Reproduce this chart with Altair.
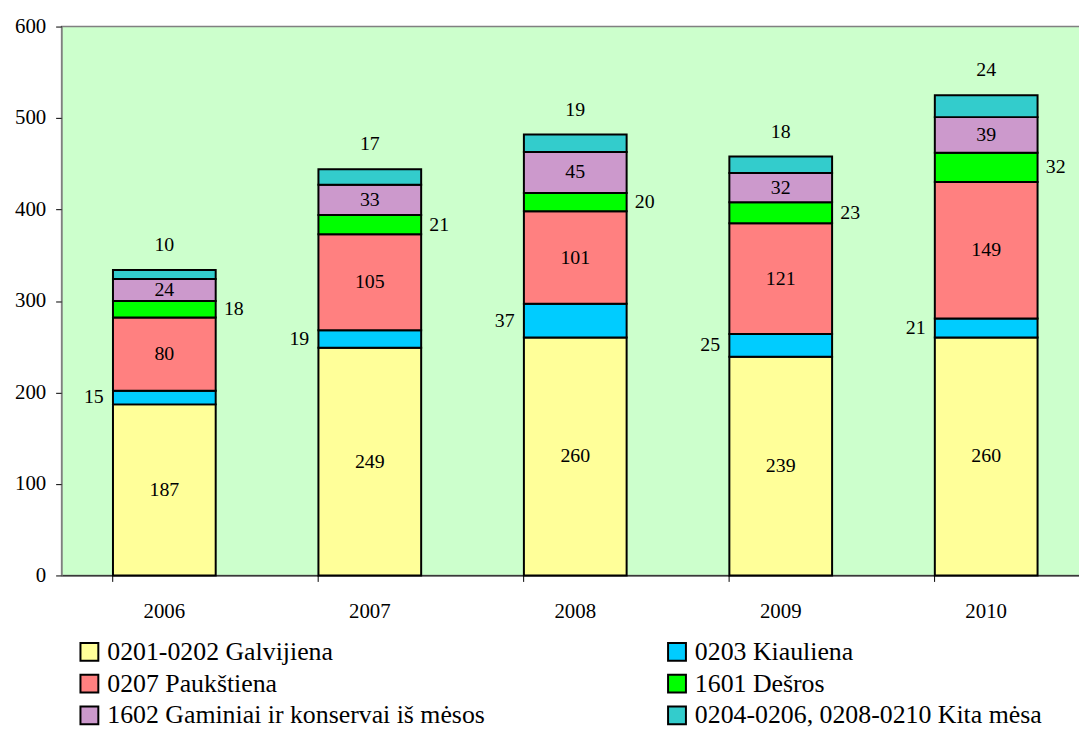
import altair as alt
import pandas as pd

years = ["2006", "2007", "2008", "2009", "2010"]
series = [
    "0201-0202 Galvijiena",
    "0203 Kiauliena",
    "0207 Paukštiena",
    "1601 Dešros",
    "1602 Gaminiai ir konservai iš mėsos",
    "0204-0206, 0208-0210 Kita mėsa",
]
colors = ["#FFFF99", "#00CCFF", "#FF8080", "#00FF00", "#CC99CC", "#33CCCC"]
galvijiena = [187, 249, 260, 239, 260]
kiauliena = [15, 19, 37, 25, 21]
paukstiena = [80, 105, 101, 121, 149]
desros = [18, 21, 20, 23, 32]
gaminiai = [24, 33, 45, 32, 39]
kita = [10, 17, 19, 18, 24]
label_pos = ["inside", "left", "inside", "right", "inside", "top"]

values = [galvijiena, kiauliena, paukstiena, desros, gaminiai, kita]
rows = []
for yi, yr in enumerate(years):
    base = 0
    for si, s in enumerate(series):
        v = values[si][yi]
        rows.append(dict(year=yr, series=s, idx=si, value=v, y0=base, y1=base + v,
                         mid=base + v / 2, pos=label_pos[si]))
        base += v
df = pd.DataFrame(rows)

FONT = "Liberation Serif, Times New Roman, DejaVu Serif, serif"

x = alt.X("year:N", title=None, sort=years,
          scale=alt.Scale(paddingInner=0.5, paddingOuter=0.25),
          axis=alt.Axis(labelAngle=0, labelFont=FONT, labelFontSize=21, labelColor="black",
                        domainColor="black", domainWidth=1, tickColor="black", tickSize=6,
                        bandPosition=0, labelPadding=19))

base = alt.Chart(df)

bars = base.mark_bar(stroke="black", strokeWidth=2).encode(
    x=x,
    y=alt.Y("y0:Q", title=None, scale=alt.Scale(domain=[0, 600]),
            axis=alt.Axis(values=[0, 100, 200, 300, 400, 500, 600], grid=False,
                          labelFont=FONT, labelFontSize=21, labelColor="black",
                          domainColor="#808080", tickColor="black", tickSize=6,
                          labelPadding=10)),
    y2="y1:Q",
    color=alt.Color("series:N", sort=series,
                    scale=alt.Scale(domain=series, range=colors),
                    legend=alt.Legend(title=None, orient="none", legendX=15, legendY=617,
                                      columns=2, direction="horizontal",
                                      columnPadding=180, rowPadding=6,
                                      symbolType="square", symbolSize=324,
                                      symbolStrokeColor="black", symbolStrokeWidth=2,
                                      labelFont=FONT, labelFontSize=26, labelColor="black",
                                      labelOffset=5, padding=0, labelLimit=600)),
    order=alt.Order("idx:Q"),
)

tk = dict(font=FONT, fontSize=20, color="black")
inside = base.transform_filter("datum.pos == 'inside'").mark_text(
    align="center", baseline="middle", **tk).encode(x=x, y="mid:Q", text="value:Q")
left = base.transform_filter("datum.pos == 'left'").mark_text(
    align="right", baseline="middle", dx=-61, **tk).encode(x=x, y="mid:Q", text="value:Q")
right = base.transform_filter("datum.pos == 'right'").mark_text(
    align="left", baseline="middle", dx=60, **tk).encode(x=x, y="mid:Q", text="value:Q")
top = base.transform_filter("datum.pos == 'top'").mark_text(
    align="center", baseline="middle", dy=-25, **tk).encode(x=x, y="y1:Q", text="value:Q")

chart = alt.layer(bars, inside, left, right, top).properties(
    width=1035, height=553,
    autosize=alt.AutoSizeParams(type="none"),
    padding={"left": 54, "top": 16, "right": -10, "bottom": 152},
).configure_view(fill="#CCFFCC", stroke="#808080", strokeWidth=1.5)

chart.save("out.html", embed_options={"renderer": "svg", "actions": False})
